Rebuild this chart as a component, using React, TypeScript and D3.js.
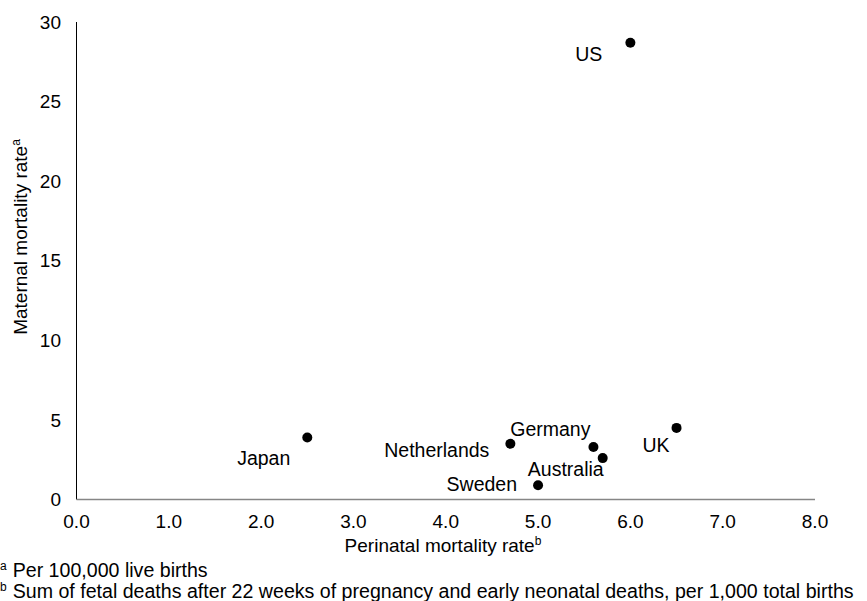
import React from 'react';
import { scaleLinear } from 'd3';

const countries = ['US', 'Japan', 'Netherlands', 'Germany', 'Australia', 'UK', 'Sweden'];
const perinatalRate = [6.0, 2.5, 4.7, 5.6, 5.7, 6.5, 5.0];
const maternalRate = [28.7, 3.9, 3.5, 3.3, 2.6, 4.5, 0.9];
const xTickValues = [0, 1, 2, 3, 4, 5, 6, 7, 8];
const yTickValues = [0, 5, 10, 15, 20, 25, 30];

// where each label sits relative to its dot
const labelPos: Record<string, { dx: number; dy: number; anchor: string }> = {
  US: { dx: -28, dy: 18, anchor: 'end' },
  Japan: { dx: -17, dy: 28, anchor: 'end' },
  Netherlands: { dx: -21, dy: 13, anchor: 'end' },
  Germany: { dx: -3, dy: -11, anchor: 'end' },
  Australia: { dx: 1, dy: 18, anchor: 'end' },
  UK: { dx: -7, dy: 24, anchor: 'end' },
  Sweden: { dx: -21, dy: 6, anchor: 'end' },
};

const font = '"Liberation Sans", Arial, sans-serif';

export default function App() {
  const width = 867;
  const height = 601;
  const left = 76.5, right = 815, top = 22, bottom = 499.5;

  const x = scaleLinear().domain([0, 8]).range([left, right]);
  const y = scaleLinear().domain([0, 30]).range([bottom, top]);

  return (
    <div style={{ position: 'absolute', left: 0, top: 0 }}>
      <svg width={width} height={height} style={{ display: 'block', fontFamily: font }}>
        <rect width={width} height={height} fill="#fff" />
        {yTickValues.map(d => (
          <text key={d} x={61} y={y(d)} dy="0.35em" textAnchor="end" fontSize={19} fill="#000">{d}</text>
        ))}
        {xTickValues.map(d => (
          <text key={d} x={x(d)} y={528} textAnchor="middle" fontSize={19} fill="#000">{d.toFixed(1)}</text>
        ))}
        <line x1={left} x2={left} y1={top} y2={bottom} stroke="#000" strokeWidth={1} />
        <line x1={left} x2={right} y1={bottom} y2={bottom} stroke="#868686" strokeWidth={1.5} />

        {countries.map((c, i) => {
          const cx = x(perinatalRate[i]);
          const cy = y(maternalRate[i]);
          const p = labelPos[c];
          return (
            <g key={c}>
              <circle cx={cx} cy={cy} r={5} fill="#000" />
              <text x={cx + p.dx} y={cy + p.dy} textAnchor={p.anchor} fontSize={19.5} fill="#000">{c}</text>
            </g>
          );
        })}

        <text x={443} y={552} textAnchor="middle" fontSize={19} fill="#000">
          Perinatal mortality rate<tspan fontSize={12} dy={-7}>b</tspan>
        </text>
        <text transform={`translate(27,237) rotate(-90)`} textAnchor="middle" fontSize={19} fill="#000">
          Maternal mortality rate<tspan fontSize={12} dy={-7}>a</tspan>
        </text>

        <text x={0} y={577} fontSize={19.6} fill="#000">
          <tspan fontSize={12} dy={-7}>a</tspan><tspan dx={6} dy={7}>Per 100,000 live births</tspan>
        </text>
        <text x={0} y={598} fontSize={19.6} fill="#000">
          <tspan fontSize={12} dy={-7}>b</tspan><tspan dx={6} dy={7}>Sum of fetal deaths after 22 weeks of pregnancy and early neonatal deaths, per 1,000 total births</tspan>
        </text>
      </svg>
    </div>
  );
}
